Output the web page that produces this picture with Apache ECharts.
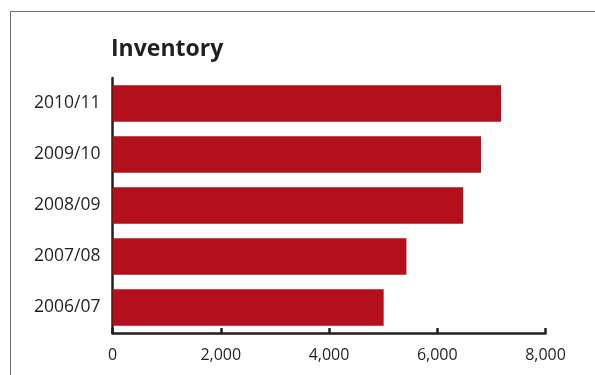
<!DOCTYPE html>
<html><head><meta charset="utf-8">
<script src="https://cdn.jsdelivr.net/npm/echarts@6/dist/echarts.min.js"></script>
<style>html,body{margin:0;padding:0;background:#fff}#c{width:595px;height:375px}</style>
</head><body><div id="c"></div>
<script>
var categories = ['2006/07', '2007/08', '2008/09', '2009/10', '2010/11'];
var inventory = [5010, 5430, 6480, 6810, 7180];
var xTicks = [0, 2000, 4000, 6000, 8000];
var titleText = 'Inventory';

var chart = echarts.init(document.getElementById('c'), null, {renderer: 'canvas'});
var dark = '#231f20';
chart.setOption({
  animation: false,
  title: {
    text: titleText, left: 106, top: 33,
    textStyle: {fontFamily: 'Open Sans', fontWeight: 'bold', fontSize: 23, color: dark}
  },
  graphic: [
    {type: 'polyline', shape: {points: [[10.5, 375], [10.5, 11.5], [595, 11.5]]},
     style: {stroke: '#6a6a6a', lineWidth: 1, fill: null}}
  ],
  grid: {left: 112.5, right: 49.5, top: 78, bottom: 42, containLabel: false},
  xAxis: {
    type: 'value', min: xTicks[0], max: xTicks[xTicks.length - 1], interval: 2000,
    axisLine: {show: true, lineStyle: {color: dark, width: 2.5}},
    axisTick: {show: true, inside: true, length: 5, lineStyle: {color: dark, width: 2.5}},
    splitLine: {show: false},
    axisLabel: {
      margin: 14, fontFamily: 'Open Sans', fontSize: 16, color: dark,
      formatter: function (v) { return v.toLocaleString('en-US'); }
    }
  },
  yAxis: {
    type: 'category', data: categories,
    axisLine: {show: true, lineStyle: {color: dark, width: 2.5}},
    axisTick: {show: false},
    axisLabel: {margin: 12, fontFamily: 'Open Sans', fontSize: 17.5, color: dark}
  },
  series: [{
    type: 'bar', data: inventory, barCategoryGap: '28%',
    itemStyle: {color: '#b30f1c'}
  }]
});
</script></body></html>
